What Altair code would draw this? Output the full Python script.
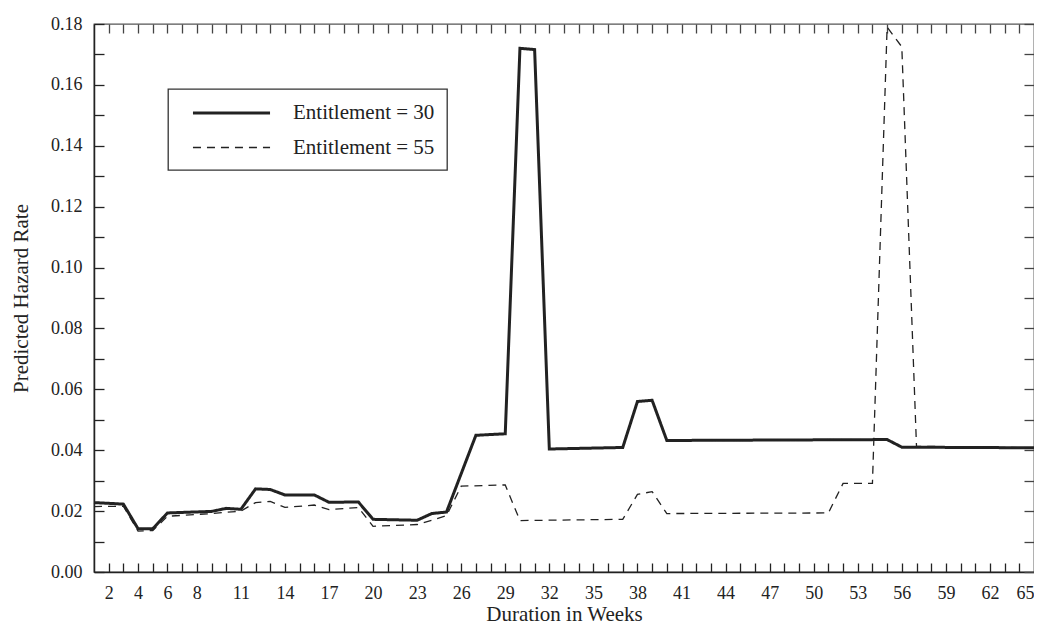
import altair as alt
import pandas as pd

# ---- data ----
weeks_30 = [1, 3, 4, 5, 6, 9, 10, 11, 12, 13, 14, 16, 17, 19, 20, 23, 24, 25, 27, 29,
            30, 31, 32, 37, 38, 39, 40, 55, 56, 65]
hazard_30 = [0.0228, 0.0223, 0.0142, 0.0142, 0.0194, 0.0199, 0.0209, 0.0206, 0.0273, 0.0271,
             0.0253, 0.0253, 0.0229, 0.0230, 0.0173, 0.0170, 0.0192, 0.0197, 0.0449, 0.0454,
             0.1720, 0.1716, 0.0404, 0.0409, 0.0560, 0.0564, 0.0432, 0.0435, 0.0410, 0.0408]

weeks_55 = [1, 3, 4, 5, 6, 9, 11, 12, 13, 14, 16, 17, 19, 20, 23, 24, 25, 26, 29, 30,
            37, 38, 39, 40, 51, 52, 54, 55, 56, 57, 65]
hazard_55 = [0.0215, 0.0216, 0.0134, 0.0136, 0.0183, 0.0192, 0.0200, 0.0228, 0.0232, 0.0212,
             0.0220, 0.0205, 0.0212, 0.0150, 0.0156, 0.0170, 0.0185, 0.0282, 0.0286, 0.0169,
             0.0173, 0.0255, 0.0264, 0.0192, 0.0194, 0.0291, 0.0291, 0.1790, 0.1725, 0.0413,
             0.0408]

series_names = ["Entitlement = 30", "Entitlement = 55"]
x_label_values = [2, 4, 6, 8, 11, 14, 17, 20, 23, 26, 29, 32, 35, 38, 41, 44, 47, 50, 53, 56, 59, 62, 65]
x_tick_values = list(range(2, 65))
y_tick_values = [round(i * 0.01, 2) for i in range(0, 19)]
y_label_values = [round(i * 0.02, 2) for i in range(0, 10)]

rows = []
for w, h in zip(weeks_30, hazard_30):
    rows.append({"week": w, "hazard": h, "series": series_names[0]})
for w, h in zip(weeks_55, hazard_55):
    rows.append({"week": w, "hazard": h, "series": series_names[1]})
df = pd.DataFrame(rows)

W, H = 940, 548
FONT = "Liberation Serif, Times New Roman, DejaVu Serif, serif"
INK = "#222222"

xscale = alt.Scale(domain=[1, 65], nice=False, zero=False)
yscale = alt.Scale(domain=[0, 0.18], nice=False, zero=True)

legend_style = dict(
    title=None, orient="none", legendX=74, legendY=65, strokeColor="#333333",
    fillColor="white", padding=12, symbolType="M-3.67,0H3.67", symbolSize=441,
    symbolStrokeColor=INK, symbolOffset=39.5, labelOffset=49.5, rowPadding=13,
    labelFont=FONT, labelFontSize=21, labelColor=INK, labelLimit=400,
)

base = alt.Chart(df)

main = base.mark_line(color=INK).encode(
    x=alt.X("week:Q", scale=xscale, axis=alt.Axis(
        orient="bottom", values=x_label_values, tickSize=0, labelPadding=12,
        labelFont=FONT, labelFontSize=18, labelColor=INK, labelFlush=True, labelOverlap=False,
        domainColor=INK, domainWidth=1.5, grid=False,
        title="Duration in Weeks", titleFont=FONT, titleFontSize=21, titleFontWeight="normal",
        titleColor=INK, titlePadding=1)),
    y=alt.Y("hazard:Q", scale=yscale, axis=alt.Axis(
        orient="left", values=y_label_values, format=".2f", tickSize=0, labelPadding=12,
        labelFont=FONT, labelFontSize=18, labelColor=INK, labelFlush=False, labelOverlap=False,
        domainColor=INK, domainWidth=1.5, grid=False,
        title="Predicted Hazard Rate", titleFont=FONT, titleFontSize=21, titleFontWeight="normal",
        titleColor=INK, titlePadding=19)),
    strokeDash=alt.StrokeDash("series:N", scale=alt.Scale(domain=series_names, range=[[1, 0], [8, 6]]),
                              legend=alt.Legend(**legend_style)),
    strokeWidth=alt.StrokeWidth("series:N", scale=alt.Scale(domain=series_names, range=[3, 1.3]),
                                legend=alt.Legend(**legend_style)),
)

ticks_a = base.mark_line(opacity=0).encode(
    x=alt.X("week:Q", scale=xscale, axis=alt.Axis(
        orient="top", offset=-H, values=x_tick_values, tickSize=9, tickColor=INK, tickWidth=1.3,
        labels=False, domain=False, grid=False, title=None)),
    y=alt.Y("hazard:Q", scale=yscale, axis=alt.Axis(
        orient="right", offset=-W, values=y_tick_values, tickSize=10, tickColor=INK, tickWidth=1.3,
        labels=False, domain=False, grid=False, title=None)),
    detail="series:N",
)

ticks_b = base.mark_line(opacity=0).encode(
    x=alt.X("week:Q", scale=xscale, axis=alt.Axis(
        orient="bottom", offset=-H, values=x_tick_values, tickSize=9, tickColor="#444", tickWidth=1.3,
        labels=False, domain=False, grid=False, title=None)),
    y=alt.Y("hazard:Q", scale=yscale, axis=alt.Axis(
        orient="left", offset=-W, values=y_tick_values, tickSize=10, tickColor="#444", tickWidth=1.3,
        labels=False, domain=False, grid=False, title=None)),
    detail="series:N",
)

chart = alt.layer(main, ticks_a, ticks_b).resolve_axis(
    x="independent", y="independent"
).properties(
    width=W, height=H,
    autosize=alt.AutoSizeParams(type="none"),
    padding={"left": 86, "top": 16, "right": 0, "bottom": 54},
    background="white",
).configure_view(
    stroke="#555555", strokeWidth=1.3
).configure_legend(
    strokeWidth=1.3, labelFont=FONT,
)

chart.save("out.html", embed_options={"renderer": "svg", "actions": False})
